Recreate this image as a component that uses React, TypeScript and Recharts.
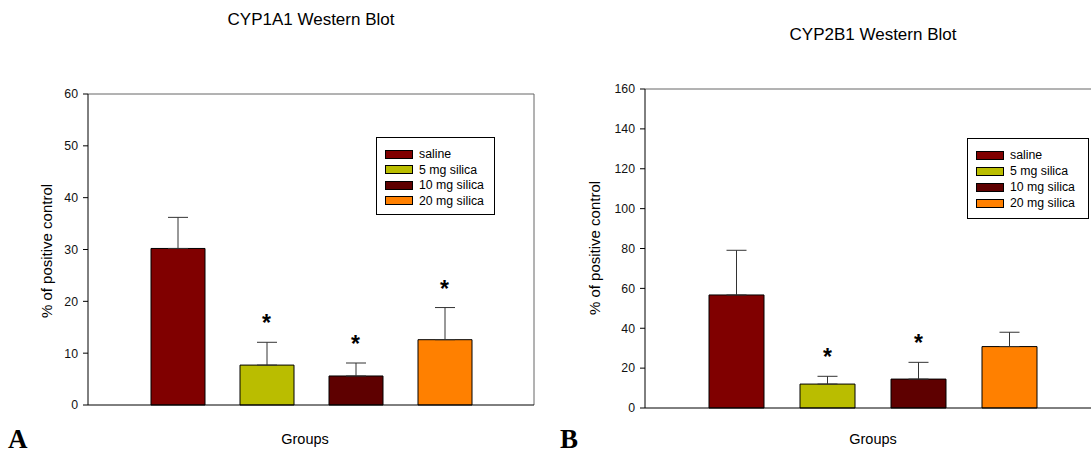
import React from 'react';
import { ComposedChart, Bar, Cell, XAxis, YAxis, ErrorBar, Scatter } from 'recharts';

const groups = ['saline', '5 mg silica', '10 mg silica', '20 mg silica'];
const colors = ['#800000', '#BABD00', '#5E0000', '#FF8000'];

const cyp1a1Mean = [30.2, 7.7, 5.6, 12.6];
const cyp1a1Sd = [6.0, 4.4, 2.5, 6.2];
const cyp1a1Sig = [false, true, true, true];

const cyp2b1Mean = [56.7, 12.0, 14.5, 30.8];
const cyp2b1Sd = [22.4, 3.9, 8.4, 7.2];
const cyp2b1Sig = [false, true, true, false];

const ticks1 = [0, 10, 20, 30, 40, 50, 60];
const ticks2 = [0, 20, 40, 60, 80, 100, 120, 140, 160];

const FONT = '"Liberation Sans", Arial, sans-serif';

function build(mean: number[], sd: number[], sig: boolean[]) {
  return groups.map((g, i) => ({
    name: g,
    mean: mean[i],
    err: [0, sd[i]],
    hi: mean[i] + sd[i],
    sig: sig[i],
  }));
}

const Star = (props: any) => {
  const { cx, cy, payload } = props;
  if (!payload || !payload.sig) return <g />;
  return (
    <text x={cx} y={cy - 11} textAnchor="middle" fontFamily={FONT} fontWeight="bold" fontSize={23} fill="#000">
      *
    </text>
  );
};

function LegendBox({ left, top, width, height, rowGap }: any) {
  return (
    <div
      style={{
        position: 'absolute', left, top, width, height, border: '1px solid #000', background: '#fff',
        boxSizing: 'border-box', fontFamily: FONT, fontSize: 12.3, color: '#000',
      }}
    >
      {groups.map((g, i) => (
        <div key={g} style={{ position: 'absolute', left: 8, top: 10 + i * rowGap, height: 12, display: 'flex', alignItems: 'center', whiteSpace: 'nowrap' }}>
          <div style={{ width: 28, height: 9, background: colors[i], border: '1px solid #000', boxSizing: 'border-box', marginRight: 6 }} />
          <span style={{ lineHeight: '12px' }}>{g}</span>
        </div>
      ))}
    </div>
  );
}

function Panel({ data, ticks, max, width, margin, pad, barSize }: any) {
  return (
    <ComposedChart width={width} height={455} data={data} margin={margin}>
      <XAxis xAxisId="top" orientation="top" dataKey="name" type="category" tick={false} tickLine={false} height={1} axisLine={{ stroke: '#666' }} />
      <YAxis yAxisId="right" orientation="right" domain={[0, max]} tick={false} tickLine={false} width={1} axisLine={{ stroke: '#666' }} />
      <XAxis dataKey="name" type="category" tick={false} tickLine={false} height={1} padding={pad} axisLine={{ stroke: '#000' }} />
      <YAxis
        width={40}
        domain={[0, max]}
        ticks={ticks}
        interval={0}
        tickSize={5}
        tickMargin={5}
        axisLine={{ stroke: '#000' }}
        tickLine={{ stroke: '#000' }}
        tick={{ fontFamily: FONT, fontSize: 12.3, fill: '#111' }}
      />
      <Bar dataKey="mean" barSize={barSize} stroke="#000" strokeWidth={1} isAnimationActive={false}>
        {data.map((d: any, i: number) => (
          <Cell key={i} fill={colors[i]} />
        ))}
        <ErrorBar dataKey="err" width={10} stroke="#333" strokeWidth={1} direction="y" />
      </Bar>
      <Scatter dataKey="hi" shape={<Star />} isAnimationActive={false} />
    </ComposedChart>
  );
}

const textStyle: React.CSSProperties = { position: 'absolute', fontFamily: FONT, color: '#000', whiteSpace: 'nowrap' };

export default function App() {
  const d1 = build(cyp1a1Mean, cyp1a1Sd, cyp1a1Sig);
  const d2 = build(cyp2b1Mean, cyp2b1Sd, cyp2b1Sig);
  return (
    <div style={{ position: 'absolute', left: 0, top: 0, width: 1091, height: 455, overflow: 'hidden', background: '#fff' }}>
      <div style={{ position: 'absolute', left: 0, top: 0 }}>
        <Panel data={d1} ticks={ticks1} max={60} width={545} margin={{ top: 93, right: 10, bottom: 49, left: 48 }} pad={{ left: 45, right: 45 }} barSize={54} />
      </div>
      <div style={{ position: 'absolute', left: 550, top: 0 }}>
        <Panel data={d2} ticks={ticks2} max={160} width={561} margin={{ top: 88, right: 9, bottom: 46, left: 55 }} pad={{ left: 46, right: 46 }} barSize={55} />
      </div>

      <LegendBox left={376} top={137} width={119} height={78} rowGap={15.5} />
      <LegendBox left={967} top={138} width={122} height={81} rowGap={16} />

      <div style={{ ...textStyle, left: 311, top: 10, fontSize: 17, transform: 'translateX(-50%)' }}>CYP1A1 Western Blot</div>
      <div style={{ ...textStyle, left: 873, top: 25, fontSize: 17, transform: 'translateX(-50%)' }}>CYP2B1 Western Blot</div>

      <div style={{ ...textStyle, left: 46, top: 251, fontSize: 15, transform: 'translate(-50%, -50%) rotate(-90deg)' }}>% of positive control</div>
      <div style={{ ...textStyle, left: 594, top: 248, fontSize: 15, transform: 'translate(-50%, -50%) rotate(-90deg)' }}>% of positive control</div>

      <div style={{ ...textStyle, left: 305, top: 431, fontSize: 14.5, transform: 'translateX(-50%)' }}>Groups</div>
      <div style={{ ...textStyle, left: 873, top: 431, fontSize: 14.5, transform: 'translateX(-50%)' }}>Groups</div>

      <div style={{ ...textStyle, left: 8, top: 424, fontSize: 27, fontWeight: 'bold', fontFamily: '"Liberation Serif", "Times New Roman", serif' }}>A</div>
      <div style={{ ...textStyle, left: 560, top: 424, fontSize: 27, fontWeight: 'bold', fontFamily: '"Liberation Serif", "Times New Roman", serif' }}>B</div>
    </div>
  );
}
